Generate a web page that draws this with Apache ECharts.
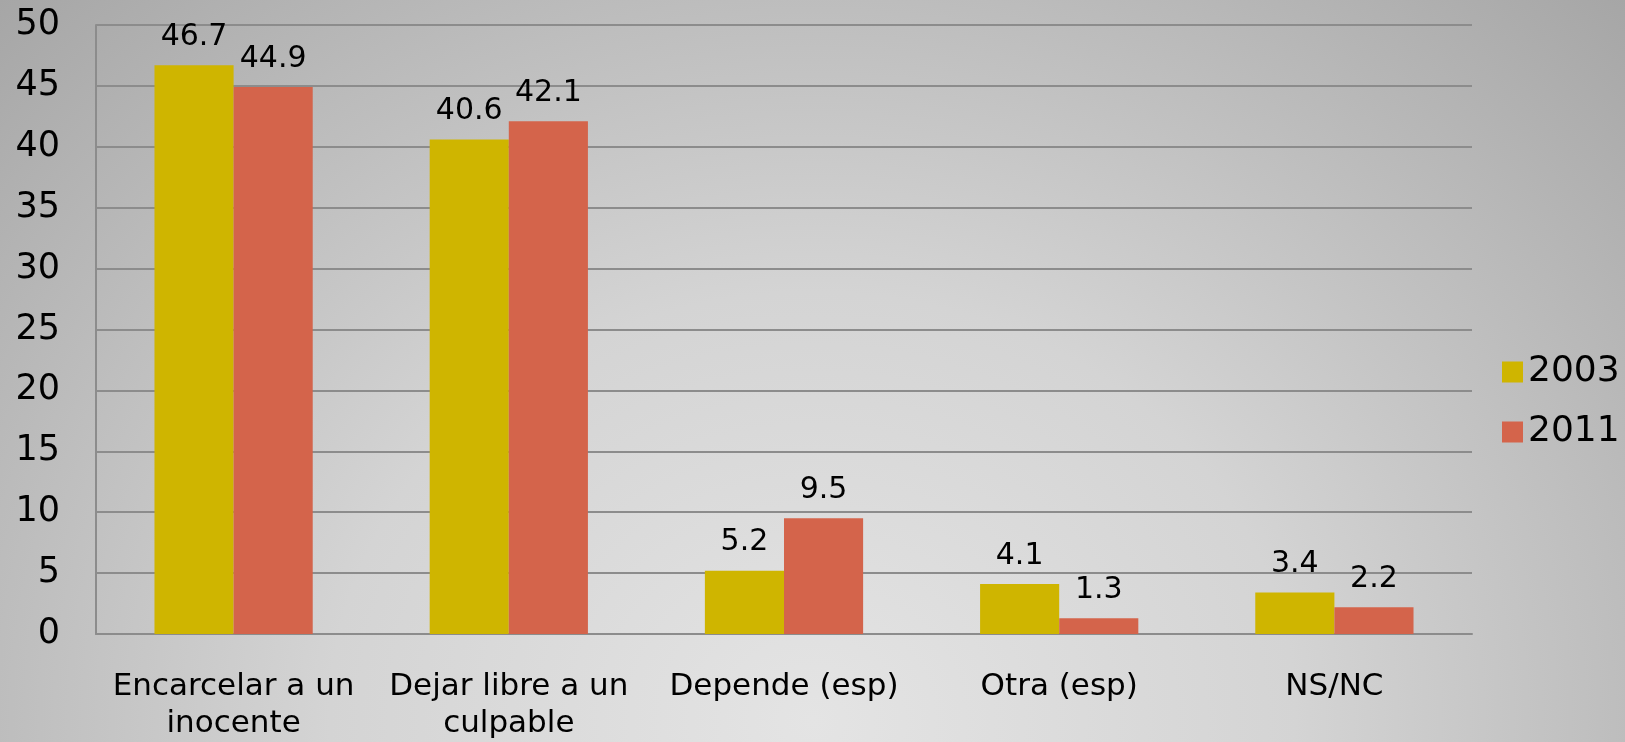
<!DOCTYPE html>
<html>
<head>
<meta charset="utf-8">
<script src="https://cdn.jsdelivr.net/npm/echarts@6/dist/echarts.min.js"></script>
<style>
  html, body { margin: 0; padding: 0; }
  body {
    width: 1625px; height: 742px; overflow: hidden;
    background: radial-gradient(ellipse farthest-corner at 50% 97%, #e4e4e4 0%, #d4d4d4 42%, #a6a6a6 100%);
  }
  #main { width: 1625px; height: 742px; }
</style>
</head>
<body>
<div id="main"></div>
<script>
// categorias y valores
const categories = ['Encarcelar a un\ninocente', 'Dejar libre a un\nculpable', 'Depende (esp)', 'Otra (esp)', 'NS/NC'];
const values2003 = [46.7, 40.6, 5.2, 4.1, 3.4];
const values2011 = [44.9, 42.1, 9.5, 1.3, 2.2];
const yTicks = [0, 5, 10, 15, 20, 25, 30, 35, 40, 45, 50];

const font = 'DejaVu Sans';
const chart = echarts.init(document.getElementById('main'), null, { renderer: 'canvas' });

const barLabel = {
  show: true,
  position: 'top',
  distance: 13,
  color: '#000',
  fontFamily: font,
  fontSize: 30
};

const option = {
  backgroundColor: 'transparent',
  animation: false,
  grid: { left: 96, right: 153, top: 25, bottom: 107 },
  legend: {
    orient: 'vertical',
    left: 1497,
    top: 349,
    itemWidth: 21,
    itemHeight: 21,
    itemGap: 24,
    icon: 'rect',
    textStyle: { fontFamily: font, fontSize: 36, lineHeight: 36, color: '#000' },
    data: ['2003', '2011']
  },
  xAxis: {
    type: 'category',
    data: categories,
    axisLine: { lineStyle: { color: '#8c8c8c', width: 2 } },
    axisTick: { show: false },
    axisLabel: {
      interval: 0,
      margin: 34,
      color: '#000',
      fontFamily: font,
      fontSize: 31,
      lineHeight: 37
    }
  },
  yAxis: {
    type: 'value',
    min: yTicks[0],
    max: yTicks[yTicks.length - 1],
    interval: 5,
    axisLine: { show: true, lineStyle: { color: '#8c8c8c', width: 2 } },
    axisTick: { show: false },
    splitLine: { lineStyle: { color: '#8c8c8c', width: 2 } },
    axisLabel: {
      margin: 36,
      color: '#000',
      fontFamily: font,
      fontSize: 35
    }
  },
  series: [
    {
      name: '2003',
      type: 'bar',
      data: values2003,
      barGap: '0%',
      barCategoryGap: '42.5%',
      itemStyle: { color: '#cfb500' },
      label: barLabel
    },
    {
      name: '2011',
      type: 'bar',
      data: values2011,
      barGap: '0%',
      barCategoryGap: '42.5%',
      itemStyle: { color: '#d4644b' },
      label: barLabel
    }
  ]
};

chart.setOption(option);
</script>
</body>
</html>
